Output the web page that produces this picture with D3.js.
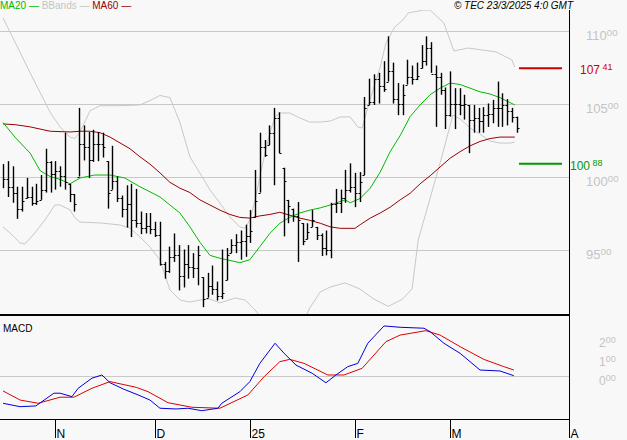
<!DOCTYPE html>
<html><head><meta charset="utf-8">
<script src="https://cdn.jsdelivr.net/npm/d3@7"></script>
<style>body{margin:0;background:#f8f8f8}svg{display:block;font-family:"Liberation Sans",Arial,sans-serif}</style>
</head><body><svg id="c" width="627" height="440"></svg>
<script>
// daily bars: high, low, close
const highs=[100.85,101.05,100.7,99.3,99.3,99.9,99.3,99.5,100.1,101.9,101.05,101.05,100.7,103.0,99.5,98.8,104.7,103.5,103.05,103.2,103.05,103.0,101.05,102.1,100.0,98.7,99.4,99.5,99.15,97.6,97.5,97.5,96.9,96.9,94.15,95.2,96.1,95.3,95.0,95.3,94.75,95.25,93.1,93.4,93.9,92.8,95.0,95.1,95.7,96.05,96.3,96.7,97.7,100.45,103.0,102.5,103.5,104.7,104.4,100.6,98.4,97.8,98.25,96.8,96.8,97.7,96.55,96.1,96.3,98.2,99.15,99.1,100.45,100.9,100.25,100.3,105.45,106.7,107.0,107.1,107.9,109.6,107.8,106.4,106.3,108.0,107.6,107.8,109.0,109.6,109.2,107.6,107.1,106.1,107.2,106.05,106.05,105.6,104.9,104.9,104.7,104.75,105.0,105.25,106.5,105.7,105.3,104.7,104.1];
const lows=[99.2,98.6,98.2,97.1,97.6,98.5,98.0,98.05,98.4,98.9,98.9,99.1,99.3,99.1,98.25,97.6,100.0,101.1,99.9,101.0,101.05,101.3,97.8,99.1,98.25,97.2,96.5,95.85,96.5,96.05,96.1,96.05,95.85,93.9,93.0,93.4,94.15,92.2,92.4,93.0,93.05,92.55,91.05,91.7,91.9,91.5,91.6,92.9,94.75,94.75,94.3,94.5,95.45,97.2,98.9,101.35,102.15,99.4,101.6,95.9,96.8,96.9,94.15,95.3,95.7,96.55,95.65,94.55,94.6,94.4,97.5,97.5,98.2,98.9,97.9,98.25,100.1,104.9,104.9,105.0,105.8,106.5,105.0,104.2,104.2,106.3,106.3,106.6,107.4,107.6,107.1,103.4,105.6,103.25,104.1,103.25,104.2,103.9,101.6,103.0,103.0,103.0,103.4,103.65,103.4,103.4,103.5,103.7,103.0];
const closes=[99.8,99.3,98.9,97.8,98.3,98.6,98.2,98.3,99.1,101.0,100.2,100.4,100.05,99.6,98.8,98.1,102.2,102.0,101.1,102.2,102.2,102.0,98.9,99.7,98.5,97.8,98.1,97.0,96.8,96.5,96.6,96.4,96.0,94.0,93.5,94.5,94.6,93.2,94.0,93.8,93.7,94.6,91.6,92.5,92.3,91.8,92.0,94.6,95.3,95.5,95.6,95.9,96.3,98.3,102.0,101.5,103.0,104.0,101.6,99.7,98.0,97.3,97.0,95.6,96.2,97.0,96.0,95.1,95.0,98.1,98.2,98.5,99.1,99.3,98.9,99.6,104.7,105.1,106.7,106.2,106.0,107.2,105.3,105.0,105.6,106.8,106.7,106.9,107.9,108.8,107.0,106.8,105.9,104.2,105.0,105.0,104.9,105.0,103.9,104.0,103.8,104.2,104.3,104.7,104.7,104.9,104.5,104.1,103.35];
// indicator lines: [bar index, value]
const ma20=[[0,103.7],[2.5,102.7],[5.7,101.6],[7.8,100.4],[9.9,100.0],[12,99.8],[14.1,99.5],[16.2,99.9],[19.3,100.1],[22.5,100.1],[25.6,99.9],[28.8,99.3],[33,98.6],[35.1,98.05],[37.2,97.5],[39.3,96.55],[41.4,95.5],[43.5,94.6],[45.6,94.4],[49.8,94.1],[51.9,94.3],[54,95.2],[56.1,96.1],[58.2,96.8],[60.3,97.2],[62.4,97.5],[64.5,97.7],[66.7,97.85],[68.8,98.05],[71.9,98.4],[73,98.2],[75.1,98.5],[77.2,99.2],[79.3,100.3],[81.4,101.7],[83.5,102.8],[85.6,104.1],[87.7,104.9],[89.8,105.6],[91.9,106.05],[94,106.4],[96.1,106.3],[98.2,106.05],[100.3,105.8],[102.4,105.65],[104.5,105.4],[107.6,104.9]];
const ma60=[[0,103.6],[2.5,103.55],[5.7,103.4],[9.9,103.1],[14.1,103.05],[16.2,103.1],[18.3,103.1],[20.4,103.0],[22.5,102.7],[24.6,102.3],[26.7,101.9],[28.8,101.35],[30.9,100.85],[33,100.25],[35.1,99.6],[37.2,99.2],[39.3,98.9],[41.4,98.4],[43.5,98.05],[45.6,97.7],[47.7,97.4],[49.8,97.2],[51.9,97.15],[54,97.3],[56.1,97.4],[58.2,97.55],[60.3,97.35],[62.4,97.15],[64.5,97.0],[66.7,96.8],[68.8,96.55],[70.9,96.45],[74,96.45],[75.1,96.7],[77.2,97.15],[79.3,97.5],[81.4,97.9],[83.5,98.4],[85.6,98.85],[87.7,99.5],[89.8,100.05],[91.9,100.65],[94,101.25],[96.1,101.7],[98.2,102.1],[100.3,102.4],[102.4,102.6],[104.5,102.7],[107.6,102.7]];
const bbUpper=[[0,110.86],[1.9,109.62],[5.7,107.1],[7.8,105.75],[9.9,104.4],[12,103.4],[14.1,102.7],[15.1,102.6],[16.2,103.05],[18.3,104.5],[20.4,104.85],[24.6,104.85],[28.8,104.9],[30.9,105.2],[33,105.55],[35.1,105.4],[37.2,103.7],[39.3,101.34],[41.4,100.24],[43.5,99.08],[45.6,98.18],[47.7,97.23],[49.8,96.54],[50.9,96.47],[51.9,97.02],[53,98.39],[54,99.97],[55.1,101.61],[56.1,102.98],[57.2,104.08],[58.2,104.35],[60.3,104.35],[62.4,104.01],[64.5,103.73],[66.7,103.73],[68.8,103.8],[70.9,104.08],[73,104.08],[74.6,103.39],[75.5,103.32],[77.2,105.3],[79.3,107.5],[80.5,109.14],[82.4,110.25],[84.1,110.72],[85.2,111.2],[88.5,111.4],[89.8,111.4],[92.7,110.51],[94.8,108.6],[97.8,108.8],[103.7,108.53],[107,107.98],[107.6,107.5]];
const bbLower=[[0,96.54],[1.5,96.13],[3.6,95.45],[4.6,95.38],[6.7,96.13],[8.8,97.02],[10.9,98.05],[12,98.05],[14.1,97.71],[15.1,97.16],[16.2,96.88],[20.4,96.82],[24.6,96.68],[26.7,96.47],[28.8,95.86],[30.9,95.17],[33,94.28],[35.1,92.23],[36.8,91.68],[37.2,91.54],[39.3,91.40],[41.4,91.54],[43.5,91.61],[45.6,91.34],[48.8,91.68],[50.9,91.54],[53,90.86],[56,89.6],[60,89.4],[63.5,90.3],[64.5,91.0],[66.7,92.09],[68.8,92.43],[71.9,92.71],[75,92.3],[78,91.6],[81,91.1],[84,91.6],[86,92.3],[87.3,95.65],[91.9,100.92],[94.6,104.21],[96.1,103.95],[98.2,103.32],[100.3,102.9],[102.4,102.43],[104.5,102.29],[106.6,102.29],[107.6,102.36]];
const macd=[[0,-1.42],[3.6,-1.6],[6.9,-1.56],[10.7,-0.89],[12,-0.89],[14.5,-1.07],[15.8,-0.63],[18.7,-0.1],[20.8,0.07],[22.5,-0.34],[25.4,-0.68],[28.4,-0.98],[30.9,-1.25],[33,-1.68],[36.4,-1.72],[38.9,-1.68],[41.8,-1.81],[45.2,-1.68],[46,-1.42],[49.8,-0.81],[51.9,-0.28],[54,0.68],[57.2,1.74],[59.1,1.21],[61.6,0.59],[65,0.16],[67.9,-0.34],[70,0.07],[72.5,0.51],[74.6,0.68],[76.7,1.74],[80.1,2.65],[83.5,2.58],[88.5,2.53],[89.8,2.35],[92.7,1.74],[96.1,1.21],[100.3,0.33],[104.5,0.28],[107.4,0.03]];
const signal=[[0,-0.77],[3.6,-1.25],[7.4,-1.42],[12,-1.1],[14.9,-1.1],[18.7,-0.63],[22.5,-0.28],[28,-0.58],[30.5,-0.81],[34.7,-1.39],[39.7,-1.63],[45.6,-1.68],[51.5,-0.98],[54.9,-0.02],[58.2,0.77],[60.3,0.89],[63.3,0.68],[68.3,0.07],[71.7,0.07],[75.5,0.42],[80.5,1.82],[83.5,2.17],[88.9,2.4],[91.9,2.17],[96.1,1.56],[101.1,0.89],[105.3,0.51],[107.4,0.33]];
const priceTicks=[95,100,105,110];
const macdTicks=[0,1,2];
const timeTicks=[[11,"N"],[32,"D"],[52,"25"],[74,"F"],[94,"M"],[119,"A"]];
const resistance=107.41, support=100.88;

const svg=d3.select("#c");
const x=d3.scaleLinear().domain([0,119]).range([3,569]);
const y=d3.scaleLinear().domain([110,95]).range([30.5,249.5]);
const ym=d3.scaleLinear().domain([0,2]).range([376.3,338.3]);
svg.append("clipPath").attr("id","cm").append("rect").attr("x",0).attr("y",10).attr("width",569).attr("height",305);
svg.append("clipPath").attr("id","cd").append("rect").attr("x",0).attr("y",316).attr("width",569).attr("height",103);

svg.selectAll(".g").data(priceTicks).join("line").attr("x1",0).attr("x2",569).attr("y1",d=>Math.round(y(d))+.5).attr("y2",d=>Math.round(y(d))+.5).attr("stroke","#c8c8c8");
svg.append("line").attr("x1",0).attr("x2",569).attr("y1",Math.round(ym(0))+.5).attr("y2",Math.round(ym(0))+.5).attr("stroke","#c8c8c8");

function lab(t,xx,yy,main,dec,col,fs){const e=t.append("text").attr("x",xx).attr("y",yy).attr("fill",col).attr("font-size",fs);e.append("tspan").text(main);e.append("tspan").attr("font-size",fs*0.75).attr("dy",-4).text(dec);}
priceTicks.forEach(p=>lab(svg,586,y(p)+9,String(p),"00","#c4c4c4",13));
macdTicks.forEach(m=>lab(svg,599,ym(m)+9,String(m),"00","#c4c4c4",12));

const gm=svg.append("g").attr("clip-path","url(#cm)");
const line=d3.line().x(d=>x(d[0])).y(d=>y(d[1]));
gm.append("path").attr("d",line(bbUpper)).attr("fill","none").attr("stroke","#c8c8c8");
gm.append("path").attr("d",line(bbLower)).attr("fill","none").attr("stroke","#c8c8c8");
gm.append("path").attr("d",line(ma60)).attr("fill","none").attr("stroke","#990000");
gm.append("path").attr("d",line(ma20)).attr("fill","none").attr("stroke","#00bb00");
const idx=d3.range(closes.length);
gm.selectAll(".b").data(idx).join("line").attr("x1",i=>Math.round(x(i))+.5).attr("x2",i=>Math.round(x(i))+.5).attr("y1",i=>y(highs[i])).attr("y2",i=>y(lows[i])).attr("stroke","#000").attr("stroke-width",1.4);
gm.selectAll(".c").data(idx).join("line").attr("x1",i=>Math.round(x(i))+.5).attr("x2",i=>Math.round(x(i))+2.5).attr("y1",i=>Math.round(y(closes[i]))+.5).attr("y2",i=>Math.round(y(closes[i]))+.5).attr("stroke","#000");
gm.selectAll(".o").data(idx.slice(1)).join("line").attr("x1",i=>Math.round(x(i))-1.5).attr("x2",i=>Math.round(x(i))+.5).attr("y1",i=>Math.round(y(Math.min(highs[i],Math.max(lows[i],closes[i-1]))))+.5).attr("y2",i=>Math.round(y(Math.min(highs[i],Math.max(lows[i],closes[i-1]))))+.5).attr("stroke","#000");

svg.append("line").attr("x1",519).attr("x2",562).attr("y1",y(resistance)).attr("y2",y(resistance)).attr("stroke","#cc0000").attr("stroke-width",2);
svg.append("line").attr("x1",519).attr("x2",562).attr("y1",y(support)).attr("y2",y(support)).attr("stroke","#009900").attr("stroke-width",2);
lab(svg,580,y(resistance)+6,"107"," 41","#cc0000",12);
lab(svg,570,y(support)+6,"100"," 88","#009900",12);

const gd=svg.append("g").attr("clip-path","url(#cd)");
const lm=d3.line().x(d=>x(d[0])).y(d=>ym(d[1]));
gd.append("path").attr("d",lm(signal)).attr("fill","none").attr("stroke","#dd0000");
gd.append("path").attr("d",lm(macd)).attr("fill","none").attr("stroke","#0000dd");
svg.append("text").attr("x",3).attr("y",332).attr("font-size",10).text("MACD");

svg.append("line").attr("x1",0).attr("x2",569).attr("y1",315).attr("y2",315).attr("stroke","#000").attr("stroke-width",2);
svg.append("line").attr("x1",569.5).attr("x2",569.5).attr("y1",10).attr("y2",420).attr("stroke","#000");
svg.append("line").attr("x1",0).attr("x2",569).attr("y1",419.5).attr("y2",419.5).attr("stroke","#000");
timeTicks.forEach(([i,t])=>{const xx=Math.round(x(i))+.5;svg.append("line").attr("x1",xx).attr("x2",xx).attr("y1",419).attr("y2",438).attr("stroke","#000");svg.append("text").attr("x",xx+1).attr("y",438).attr("font-size",12).text(t);});

const lg=svg.append("text").attr("x",0).attr("y",9).attr("font-size",10);
[["MA20","#00bb00"],["BBands","#c4c4c4"],["MA60","#990000"]].forEach(([t,c])=>{lg.append("tspan").attr("fill",c).text(t+" ");lg.append("tspan").attr("fill",c).text("— ");});
svg.append("text").attr("x",573).attr("y",9).attr("text-anchor","end").attr("font-size",10).attr("font-style","italic").text("© TEC 23/3/2025 4:0 GMT");
</script></body></html>
